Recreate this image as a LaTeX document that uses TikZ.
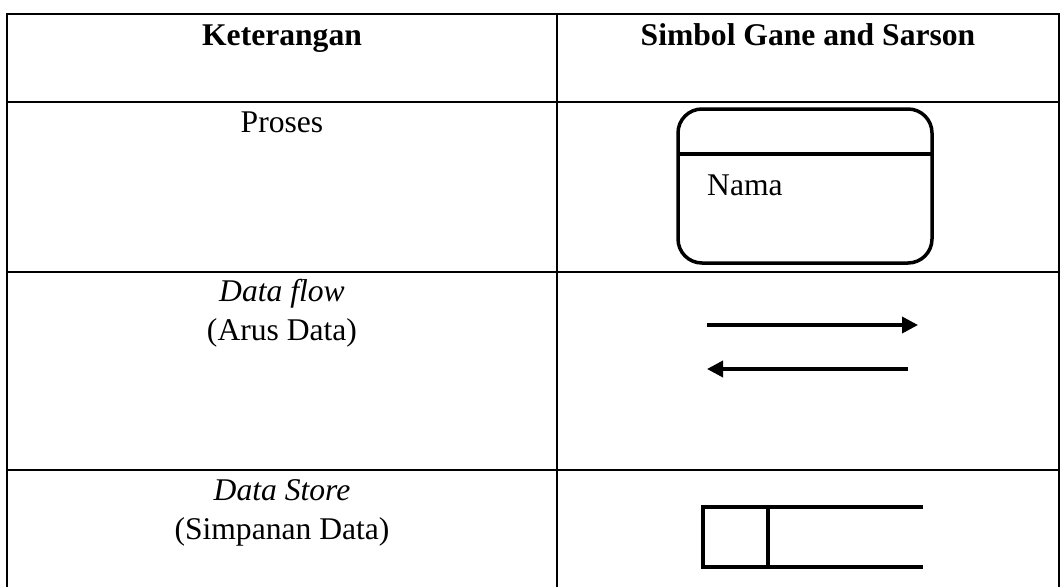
\documentclass[tikz,border=0pt]{standalone}
\usepackage{fontspec}
\setmainfont{Liberation Serif}
\usetikzlibrary{arrows.meta}
\tikzset{
  grid/.style={line width=2.2pt, line cap=rect},
  txt/.style={anchor=base, inner sep=0pt, font=\fontsize{31.6}{38}\selectfont},
  hdr/.style={txt, font=\fontsize{31.6}{38}\selectfont\bfseries},
  itxt/.style={txt, font=\fontsize{31.6}{38}\selectfont\itshape},
  sym/.style={line width=3.5pt},
  flow/.style={line width=3.6pt, -{Triangle[length=16pt,width=16pt]}},
}
\begin{document}
\begin{tikzpicture}[x={(1pt,0)}, y={(0,-1pt)}]
\useasboundingbox (0,0) rectangle (1062,586);
\begin{scope}
\clip (0,0) rectangle (1062,586);
% table grid
\draw[grid] (7,600) -- (7,14) -- (1059,14) -- (1059,600);
\draw[grid] (557,14) -- (557,600);
\draw[grid] (7,102) -- (1059,102);
\draw[grid] (7,272) -- (1059,272);
\draw[grid] (7,470) -- (1059,470);
\end{scope}
% headers
\node[hdr] (h1) at (282,46) {Keterangan};
\node[hdr] (h2) at (808,46) {Simbol Gane and Sarson};
% left column
\node[txt] (proses) at (282,132) {Proses};
\node[itxt] (df) at (282,301) {Data flow};
\node[txt] (arus) at (282,340) {(Arus Data)};
\node[itxt] (ds) at (282,500) {Data Store};
\node[txt] (simp) at (282,539) {(Simpanan Data)};
% process symbol
\draw[sym, rounded corners=24pt] (678,109) rectangle (932,263);
\draw[sym] (678,154) -- (932,154);
\node[txt, anchor=base west] (nama) at (707,195) {Nama};
% data flow arrows
\coordinate (a1s) at (707,325);
\coordinate (a1e) at (918,325);
\coordinate (a2s) at (908,369);
\coordinate (a2e) at (707,369);
\draw[flow] (a1s) -- (a1e);
\draw[flow] (a2s) -- (a2e);
% data store
\draw[line width=4pt] (923,507) -- (703,507) -- (703,567) -- (923,567);
\draw[line width=4pt] (768,507) -- (768,567);
\end{tikzpicture}
\end{document}
